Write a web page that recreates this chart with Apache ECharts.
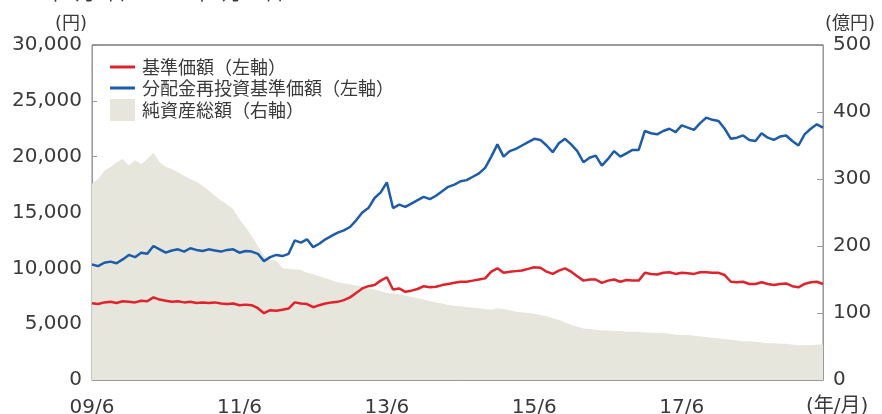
<!DOCTYPE html>
<html>
<head>
<meta charset="utf-8">
<script src="https://cdn.jsdelivr.net/npm/echarts@6/dist/echarts.min.js"></script>
<style>
html,body{margin:0;padding:0;background:#fff;}
#chart{width:882px;height:414px;}
</style>
</head>
<body>
<div id="chart"></div>
<script>
// Months from 2009/6 to 2019/5 (monthly)
const months = [];
for (let y = 2009; y <= 2019; y++) {
  for (let m = 1; m <= 12; m++) {
    if ((y === 2009 && m < 6) || (y === 2019 && m > 5)) continue;
    months.push(String(y % 100).padStart(2, '0') + '/' + m);
  }
}
const xTickLabels = ['09/6', '11/6', '13/6', '15/6', '17/6'];
const leftTicks = [0, 5000, 10000, 15000, 20000, 25000, 30000];
const rightTicks = [0, 100, 200, 300, 400, 500];

// 基準価額 (円)
const navPrice = [
  6870, 6800, 6950, 7000, 6900, 7050, 7000, 6950, 7100, 7050,
  7400, 7200, 7100, 7000, 7050, 6950, 7000, 6900, 6950, 6900,
  6950, 6850, 6800, 6850, 6700, 6750, 6700, 6430, 5980, 6250,
  6200, 6300, 6400, 6950, 6850, 6800, 6520, 6700, 6850, 6950,
  7000, 7150, 7400, 7800, 8200, 8400, 8500, 8900, 9200, 8100,
  8200, 7900, 8000, 8150, 8400, 8300, 8350, 8500, 8600, 8700,
  8800, 8800, 8900, 9000, 9100, 9700, 10000, 9600, 9700, 9750,
  9800, 9950, 10100, 10050, 9700, 9500, 9800, 10000, 9700, 9300,
  8900, 9000, 9000, 8700, 8900, 9000, 8800, 8950, 8900, 8900,
  9600, 9500, 9450, 9600, 9650, 9500, 9600, 9550, 9500, 9650,
  9650, 9600, 9600, 9400, 8800, 8750, 8800, 8600, 8600, 8750,
  8600, 8500, 8600, 8650, 8400, 8300, 8600, 8750, 8800, 8600
];

// 分配金再投資基準価額 (円)
const reinvestPrice = [
  10350, 10200, 10500, 10600, 10450, 10800, 11200, 11000, 11400, 11300,
  12000, 11700, 11400, 11600, 11700, 11500, 11800, 11650, 11550, 11700,
  11600, 11500, 11650, 11700, 11400, 11550, 11500, 11300, 10650, 11000,
  11200, 11100, 11300, 12500, 12300, 12600, 11900, 12200, 12600, 12900,
  13200, 13400, 13700, 14300, 15000, 15400, 16300, 16800, 17700, 15400,
  15700, 15500, 15800, 16100, 16400, 16200, 16500, 16900, 17300, 17500,
  17800, 17900, 18200, 18500, 19000, 20000, 21100, 20000, 20500, 20700,
  21000, 21300, 21600, 21500, 21000, 20400, 21200, 21600, 21100, 20500,
  19500, 19900, 20100, 19200, 19800, 20500, 20000, 20300, 20600, 20600,
  22300, 22100, 22000, 22300, 22500, 22200, 22800, 22600, 22400, 23000,
  23500, 23300, 23200, 22500, 21600, 21700, 21900, 21500, 21400, 22100,
  21700, 21500, 21800, 21900, 21400, 21000, 22000, 22500, 22900, 22600
];

// 純資産総額 (億円)
const netAssets = [
  293, 300, 312, 318, 325, 330, 320, 328, 322, 330,
  339, 325, 318, 315, 310, 305, 300, 296, 290, 283,
  275, 268, 262, 255, 240, 228, 215, 200, 185, 180,
  178, 167, 166, 165, 164, 160, 158, 155, 152, 149,
  146, 144, 143, 141, 139, 137, 135, 133, 130, 129,
  128, 126, 124, 122, 120, 118, 116, 114, 112, 111,
  110, 109, 108, 107, 106, 105, 107, 106, 104, 102,
  101, 100, 99, 97, 95, 92, 90, 86, 82, 80,
  77, 76, 75, 74, 74, 73, 73, 72, 72, 72,
  71, 71, 70, 70, 69, 68, 67, 67, 66, 65,
  64, 63, 62, 61, 60, 59, 58, 58, 57, 56,
  55, 55, 54, 54, 53, 52, 52, 52, 53, 53
];

const FONT = '"DejaVu Sans", "Noto Sans CJK JP", sans-serif';
const JP = '"Noto Sans CJK JP", sans-serif';
const TXT = '#3a3a3a';
const AXIS = '#9a9a9a';
const topVal = leftTicks[leftTicks.length - 1];

const chart = echarts.init(document.getElementById('chart'), null, {renderer: 'canvas'});
chart.setOption({
  animation: false,
  backgroundColor: '#fff',
  textStyle: {fontFamily: FONT, color: TXT},
  grid: {left: 92, right: 59, top: 45, bottom: 34, containLabel: false, outerBoundsMode: 'none',
    show: true, borderColor: '#8c8c8c', borderWidth: 1, backgroundColor: 'transparent'},
  legend: [{
    orient: 'vertical', left: 105, top: 53, itemGap: 3,
    itemWidth: 25, itemHeight: 3, icon: 'rect',
    textStyle: {fontFamily: JP, fontSize: 18, color: TXT, padding: [0, 0, 0, 2]},
    data: ['基準価額（左軸）', '分配金再投資基準価額（左軸）']
  }, {
    orient: 'vertical', left: 105, top: 94, itemWidth: 25, itemHeight: 22, icon: 'rect',
    textStyle: {fontFamily: JP, fontSize: 18, color: TXT, padding: [0, 0, 0, 2]},
    data: ['純資産総額（右軸）']
  }],
  xAxis: [{
    type: 'category', data: months, boundaryGap: false,
    axisLine: {lineStyle: {color: AXIS}},
    axisTick: {inside: true, length: 6, lineStyle: {color: AXIS},
      interval: (i, v) => xTickLabels.includes(v)},
    axisLabel: {fontSize: 20, color: TXT, margin: 18,
      interval: (i, v) => xTickLabels.includes(v)},
    splitLine: {show: false}
  }],
  yAxis: [{
    type: 'value', min: 0, max: topVal, interval: 5000,
    name: '(円)', nameLocation: 'end', nameGap: 12,
    nameTextStyle: {fontFamily: FONT, fontSize: 18, color: TXT, align: 'right', padding: [0, 5, 0, 0]},
    axisLine: {show: true, lineStyle: {color: AXIS}},
    axisTick: {show: true, inside: true, length: 5, lineStyle: {color: AXIS}},
    axisLabel: {fontSize: 20, color: TXT, margin: 10,
      formatter: v => leftTicks.includes(v) ? v.toLocaleString('en-US') : ''},
    splitLine: {show: false}
  }, {
    type: 'value', min: 0, max: 500, interval: 100, position: 'right',
    name: '(億円)', nameLocation: 'end', nameGap: 12,
    nameTextStyle: {fontFamily: FONT, fontSize: 18, color: TXT, align: 'left', padding: [0, 0, 0, 2]},
    axisLine: {show: true, lineStyle: {color: AXIS}},
    axisTick: {show: true, inside: true, length: 6, lineStyle: {color: AXIS}},
    axisLabel: {fontSize: 20, color: TXT, margin: 10,
      formatter: v => rightTicks.includes(v) ? String(v) : ''},
    splitLine: {show: false}
  }],
  series: [{
    name: '純資産総額（右軸）', type: 'line', yAxisIndex: 1, data: netAssets,
    showSymbol: false, symbol: 'none', lineStyle: {width: 0},
    itemStyle: {color: '#e6e6dc'},
    areaStyle: {color: '#e6e6dc', opacity: 1}, z: 1
  }, {
    name: '基準価額（左軸）', type: 'line', yAxisIndex: 0, data: navPrice,
    showSymbol: false, symbol: 'none',
    lineStyle: {width: 2.5, color: '#e0222c'}, itemStyle: {color: '#e0222c'}, z: 3,
    markLine: {
      silent: true, symbol: 'none', animation: false,
      label: {show: false}, emphasis: {disabled: true},
      lineStyle: {color: '#8c8c8c', type: 'solid', width: 1.5},
      data: [{yAxis: topVal}]
    }
  }, {
    name: '分配金再投資基準価額（左軸）', type: 'line', yAxisIndex: 0, data: reinvestPrice,
    showSymbol: false, symbol: 'none',
    lineStyle: {width: 2.5, color: '#1d5caa'}, itemStyle: {color: '#1d5caa'}, z: 3
  }],
  graphic: [{
    type: 'text', left: 0, top: -18,
    style: {text: '2009年6月1日～2019年5月31日', font: '20px ' + JP, fill: TXT}
  }, {
    type: 'text', left: 806, top: 397,
    style: {text: '(年/月)', font: '20px ' + FONT, fill: TXT}
  }]
});
</script>
</body>
</html>
